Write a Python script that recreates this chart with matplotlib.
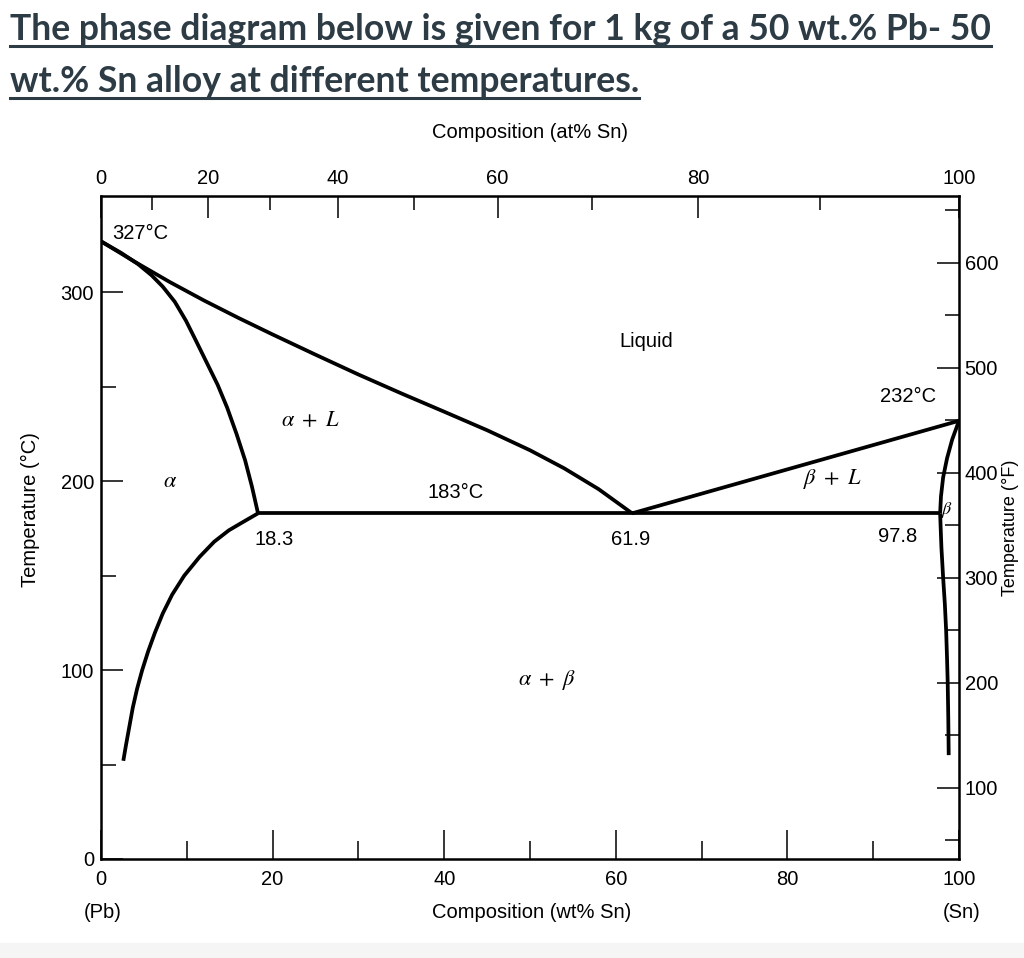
import numpy as np
import matplotlib
matplotlib.use("Agg")
import matplotlib.pyplot as plt
from matplotlib.lines import Line2D

# phase boundaries, (wt% Sn, temperature in C)
liquidus_left_x = [0, 4, 8, 12, 16, 20, 25, 30, 35, 40, 45, 50, 54, 58, 61.9]
liquidus_left_t = [327, 316, 305.5, 295.7, 286.5, 277.7, 267, 256.5, 246.5, 236.8, 227, 216.4, 206.8, 195.8, 183]
liquidus_right_x = [61.9, 100]
liquidus_right_t = [183, 232]
solidus_a_x = [0, 2.3, 4.3, 5.9, 7.2, 8.6, 9.9, 11.0, 12.3, 13.6, 14.7, 15.8, 16.8, 17.6, 18.3]
solidus_a_t = [327, 321, 315, 309, 303, 295, 285, 275, 263, 251, 239, 225, 211, 197, 183]
solvus_a_x = [18.3, 16.4, 14.9, 13.2, 11.5, 9.7, 8.3, 7.2, 6.3, 5.5, 4.8, 4.2, 3.7, 3.3, 2.9, 2.6]
solvus_a_t = [183, 178, 174, 168, 160, 150, 140, 130, 120, 110, 100, 90, 80, 70, 60, 52]
solidus_b_x = [100, 99.2, 98.6, 98.15, 97.9, 97.8]
solidus_b_t = [232, 222, 212, 202, 192, 183]
solvus_b_x = [97.8, 97.95, 98.15, 98.35, 98.5, 98.6, 98.68, 98.75, 98.8]
solvus_b_t = [183, 165, 149, 135, 121, 107, 94, 75, 55]
eutectic_x = [18.3, 97.8]
eutectic_t = [183, 183]

M_SN, M_PB = 118.71, 207.2

def wt_to_at(w):
    w = np.clip(np.asarray(w, dtype=float), 0, 100)
    a = w / M_SN
    b = (100 - w) / M_PB
    return 100 * a / (a + b)

def at_to_wt(c):
    c = np.clip(np.asarray(c, dtype=float), 0, 100)
    a = c * M_SN
    b = (100 - c) * M_PB
    return 100 * a / (a + b)

def c_to_f(t):
    return np.asarray(t) * 9 / 5 + 32

def f_to_c(t):
    return (np.asarray(t) - 32) * 5 / 9

plt.rcParams['font.family'] = ['Liberation Sans', 'DejaVu Sans']
plt.rcParams['mathtext.fontset'] = 'stix'

W, H = 1024, 958
fig = plt.figure(figsize=(W / 100, H / 100), dpi=100)

def fx(px):
    return px / W

def fy(py):
    return 1 - py / H

# light band at the bottom
fig.patches.append(plt.Rectangle((0, 0), 1, fy(943), transform=fig.transFigure,
                                 color='#f5f5f5', zorder=0))

ax = fig.add_axes([fx(101), fy(859), fx(959) - fx(101), fy(196) - fy(859)])
ax.set_xlim(0, 100)
ax.set_ylim(0, 351)
for s in ax.spines.values():
    s.set_linewidth(1.8)

lw = 2.7
for xs, ts in [(liquidus_left_x, liquidus_left_t), (liquidus_right_x, liquidus_right_t),
               (solidus_a_x, solidus_a_t), (solvus_a_x, solvus_a_t),
               (solidus_b_x, solidus_b_t), (solvus_b_x, solvus_b_t),
               (eutectic_x, eutectic_t)]:
    ax.plot(xs, ts, color='black', lw=lw, solid_capstyle='butt', solid_joinstyle='round')

fs = 14.5
ax.set_xticks([0, 20, 40, 60, 80, 100])
ax.set_xticks([10, 30, 50, 70, 90], minor=True)
ax.set_yticks([0, 100, 200, 300])
ax.set_yticks([50, 150, 250], minor=True)
ax.tick_params(axis='x', which='major', direction='in', length=21, width=1.1, labelsize=fs, pad=8)
ax.tick_params(axis='x', which='minor', direction='in', length=13, width=1.1)
ax.tick_params(axis='y', which='major', direction='in', length=16, width=1.1, labelsize=fs, pad=5)
ax.tick_params(axis='y', which='minor', direction='in', length=11, width=1.1)

top = ax.secondary_xaxis('top', functions=(wt_to_at, at_to_wt))
top.set_xticks([0, 20, 40, 60, 80, 100])
top.set_xticks([10, 30, 50, 70, 90], minor=True)
top.tick_params(which='major', direction='in', length=16, width=1.1, labelsize=fs, pad=6)
top.tick_params(which='minor', direction='in', length=10, width=1.1)

right = ax.secondary_yaxis('right', functions=(c_to_f, f_to_c))
right.set_yticks([100, 200, 300, 400, 500, 600])
right.set_yticks([50, 150, 250, 350, 450, 550, 650], minor=True)
right.tick_params(which='major', direction='in', length=16, width=1.1, labelsize=fs, pad=4)
right.tick_params(which='minor', direction='in', length=10, width=1.1)
right.set_ylabel('Temperature (°F)', fontsize=13, labelpad=3)

# region and point labels
ax.text(1.3, 331, '327°C', fontsize=fs, ha='left', va='center')
ax.text(24.4, 232, r'$\alpha\ +\ L$', fontsize=16, ha='center', va='center')
ax.text(8.0, 200, r'$\alpha$', fontsize=16, ha='center', va='center')
ax.text(41.3, 194, '183°C', fontsize=fs, ha='center', va='center')
ax.text(20.2, 169, '18.3', fontsize=fs, ha='center', va='center')
ax.text(61.7, 169, '61.9', fontsize=fs, ha='center', va='center')
ax.text(63.6, 274, 'Liquid', fontsize=fs, ha='center', va='center')
ax.text(85.2, 201, r'$\beta\ +\ L$', fontsize=16, ha='center', va='center')
ax.text(94.1, 245, '232°C', fontsize=fs, ha='center', va='center')
ax.text(92.9, 170.5, '97.8', fontsize=fs, ha='center', va='center')
ax.text(98.6, 185, r'$\beta$', fontsize=13, ha='center', va='center')
ax.text(52.0, 95, r'$\alpha\ +\ \beta$', fontsize=16, ha='center', va='center')

fig.text(fx(530), fy(133), 'Composition (at% Sn)', fontsize=fs, ha='center', va='center')
fig.text(fx(532), fy(913), 'Composition (wt% Sn)', fontsize=fs, ha='center', va='center')
fig.text(fx(103), fy(913), '(Pb)', fontsize=fs, ha='center', va='center')
fig.text(fx(962), fy(913), '(Sn)', fontsize=fs, ha='center', va='center')
fig.text(fx(30), fy(510), 'Temperature (°C)', fontsize=fs, ha='center', va='center', rotation=90)

# underlined title
title_color = '#2d3b45'
lines = ['The phase diagram below is given for 1 kg of a 50 wt.% Pb- 50',
         'wt.% Sn alloy at different temperatures.']
baselines = [40, 92]
underlines = [46, 98]
texts = []
for s, b in zip(lines, baselines):
    texts.append(fig.text(fx(10), fy(b), s, fontsize=25.6, fontweight='bold',
                          family=['Lato', 'DejaVu Sans'], color=title_color,
                          ha='left', va='baseline'))

fig.canvas.draw()
r = fig.canvas.get_renderer()
for t, u in zip(texts, underlines):
    bb = t.get_window_extent(r)
    fig.add_artist(Line2D([bb.x0 / W, bb.x1 / W], [fy(u), fy(u)], transform=fig.transFigure,
                          color=title_color, lw=2.2))

fig.savefig('out.png', dpi=100)
